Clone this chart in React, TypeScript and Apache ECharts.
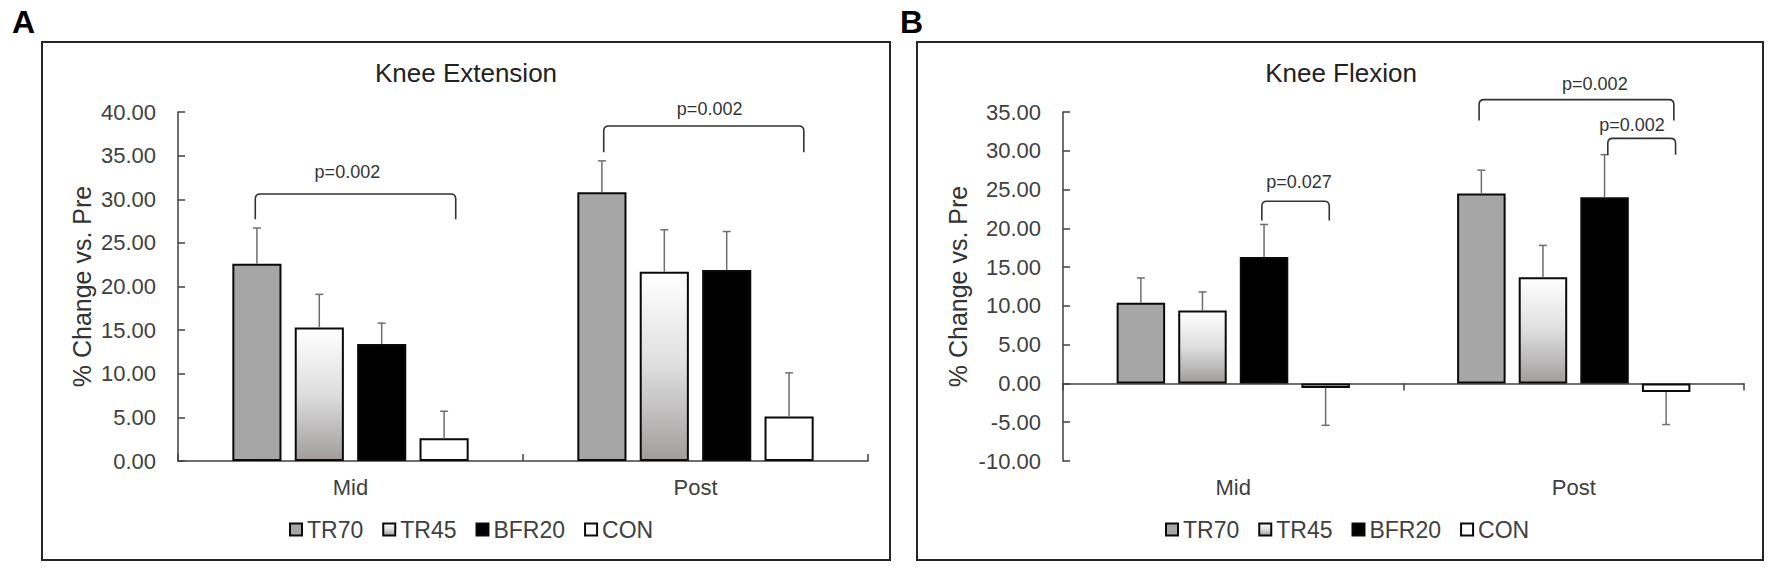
import React, { useEffect, useRef } from "react";
import * as echarts from "echarts";

const categories = ["Mid", "Post"];
const groups = ["TR70", "TR45", "BFR20", "CON"];

// Panel A – Knee Extension: mean % change vs. Pre and error (SE)
const extTR70 = [22.6, 30.8];
const extTR45 = [15.3, 21.7];
const extBFR20 = [13.4, 21.9];
const extCON = [2.6, 5.1];
const extTR70Err = [4.1, 3.6];
const extTR45Err = [3.8, 4.8];
const extBFR20Err = [2.4, 4.4];
const extCONErr = [3.1, 5.0];

// Panel B – Knee Flexion
const flexTR70 = [10.4, 24.5];
const flexTR45 = [9.4, 13.7];
const flexBFR20 = [16.3, 24.0];
const flexCON = [-0.6, -1.1];
const flexTR70Err = [3.2, 3.0];
const flexTR45Err = [2.4, 4.1];
const flexBFR20Err = [4.2, 5.5];
const flexCONErr = [4.8, 4.2];

// Y axis ranges
const extAxis = { min: 0, max: 40, interval: 5 };
const flexAxis = { min: -10, max: 35, interval: 5 };

// Significance brackets:
// [categoryIndex, leftPosInBand, rightPosInBand, yTop, yLeftLeg, yRightLeg, labelPosInBand, labelY]
const extBrackets = [
  [0, 0.224, 0.805, 30.6, 27.7, 27.7, 0.491, 33.1],
  [1, 0.234, 0.814, 38.4, 35.4, 35.4, 0.541, 40.35],
];
const extBracketLabels = ["p=0.002", "p=0.002"];
const flexBrackets = [
  [0, 0.584, 0.782, 23.5, 21.0, 21.0, 0.693, 25.95],
  [1, 0.222, 0.794, 36.6, 33.9, 33.9, 0.562, 38.56],
  [1, 0.6, 0.799, 31.6, 29.5, 29.5, 0.671, 33.37],
];
const flexBracketLabels = ["p=0.027", "p=0.002", "p=0.002"];

const FONT = "'Liberation Sans', Arial, Helvetica, sans-serif";
const BAR_CAT_GAP = 0.315;
const BAR_GAP = 0.27;

function barOffset(k: number, n: number) {
  const a = 1 - BAR_CAT_GAP;
  const bw = a / (n + (n - 1) * BAR_GAP);
  return -a / 2 + bw / 2 + k * bw * (1 + BAR_GAP);
}

const groupColors: any[] = [
  "#a6a6a6",
  {
    type: "linear",
    x: 0,
    y: 0,
    x2: 0,
    y2: 1,
    colorStops: [
      { offset: 0, color: "#ffffff" },
      { offset: 0.5, color: "#dedede" },
      { offset: 1, color: "#a19d9d" },
    ],
  },
  "#000000",
  "#ffffff",
];

function errorRender(offset: number) {
  return (params: any, api: any) => {
    const cat = api.value(0);
    const v = api.value(1);
    const e = api.value(2);
    const bw = api.size([1, 0])[0];
    const base = api.coord([cat, v]);
    const end = api.coord([cat, v >= 0 ? v + e : v - e]);
    const x = base[0] + offset * bw;
    const style = { stroke: "#6e6e6e", lineWidth: 1.5 };
    return {
      type: "group",
      children: [
        { type: "line", shape: { x1: x, y1: base[1], x2: x, y2: end[1] }, style },
        { type: "line", shape: { x1: x - 4, y1: end[1], x2: x + 4, y2: end[1] }, style },
      ],
    };
  };
}

function bracketRender(labels: string[]) {
  return (params: any, api: any) => {
    const cat = api.value(0);
    const fl = api.value(1);
    const fr = api.value(2);
    const yTop = api.value(3);
    const yL = api.value(4);
    const yR = api.value(5);
    const tf = api.value(6);
    const ty = api.value(7);
    const bw = api.size([1, 0])[0];
    const c = api.coord([cat, yTop]);
    const x1 = c[0] + (fl - 0.5) * bw;
    const x2 = c[0] + (fr - 0.5) * bw;
    const yt = c[1];
    const yl = api.coord([cat, yL])[1];
    const yr = api.coord([cat, yR])[1];
    const tx = c[0] + (tf - 0.5) * bw;
    const tyPx = api.coord([cat, ty])[1];
    const r = 5;
    const d =
      `M${x1} ${yl} L${x1} ${yt + r} Q${x1} ${yt} ${x1 + r} ${yt} ` +
      `L${x2 - r} ${yt} Q${x2} ${yt} ${x2} ${yt + r} L${x2} ${yr}`;
    return {
      type: "group",
      children: [
        {
          type: "path",
          shape: { pathData: d },
          style: { fill: "none", stroke: "#333333", lineWidth: 1.6 },
        },
        {
          type: "text",
          x: tx,
          y: tyPx,
          style: {
            text: labels[params.dataIndex],
            fontSize: 18,
            fontFamily: FONT,
            fill: "#333333",
            align: "center",
            verticalAlign: "middle",
          },
        },
      ],
    };
  };
}

function panelSeries(
  values: number[][],
  errs: number[][],
  xAxisIndex: number,
  yAxisIndex: number,
  brackets: number[][],
  labels: string[]
) {
  const out: any[] = [];
  groups.forEach((g, k) => {
    out.push({
      name: g,
      type: "bar",
      xAxisIndex,
      yAxisIndex,
      data: values[k],
      barGap: `${BAR_GAP * 100}%`,
      barCategoryGap: `${BAR_CAT_GAP * 100}%`,
      itemStyle: { color: groupColors[k], borderColor: "#0a0a0a", borderWidth: 2 },
      z: 2,
    });
  });
  groups.forEach((g, k) => {
    out.push({
      type: "custom",
      xAxisIndex,
      yAxisIndex,
      silent: true,
      z: 3,
      clip: false,
      data: categories.map((c, i) => [i, values[k][i], errs[k][i]]),
      encode: { x: 0, y: 1 },
      renderItem: errorRender(barOffset(k, groups.length)),
    });
  });
  out.push({
    type: "custom",
    xAxisIndex,
    yAxisIndex,
    silent: true,
    z: 4,
    clip: false,
    data: brackets,
    encode: { x: 0, y: 3 },
    renderItem: bracketRender(labels),
  });
  return out;
}

const axisLineStyle = { color: "#404040", width: 1.5 };

function yAxisFor(gridIndex: number, range: any, nameGap: number) {
  return {
    type: "value",
    gridIndex,
    min: range.min,
    max: range.max,
    interval: range.interval,
    name: "% Change vs. Pre",
    nameLocation: "middle",
    nameGap,
    nameTextStyle: { fontSize: 25, color: "#333333", fontFamily: FONT },
    axisLine: { show: true, lineStyle: axisLineStyle },
    axisTick: { show: true, inside: true, length: 7, lineStyle: axisLineStyle },
    splitLine: { show: false },
    axisLabel: {
      fontSize: 22,
      color: "#404040",
      fontFamily: FONT,
      margin: 22,
      formatter: (v: number) => v.toFixed(2),
    },
  };
}

export default function App() {
  const ref = useRef<HTMLDivElement>(null);
  useEffect(() => {
    if (!ref.current) return;
    const chart = echarts.init(ref.current, undefined, { renderer: "svg" });
    const option: any = {
      animation: false,
      backgroundColor: "#ffffff",
      textStyle: { fontFamily: FONT },
      grid: [
        { left: 178, top: 112, width: 690, height: 349 },
        { left: 1063, top: 112, width: 681, height: 349 },
      ],
      xAxis: [
        {
          type: "category",
          gridIndex: 0,
          data: categories,
          axisLine: { show: true, lineStyle: axisLineStyle },
          axisTick: { show: true, inside: true, length: 7, interval: 0, lineStyle: axisLineStyle },
          axisLabel: { fontSize: 22, color: "#404040", margin: 15, fontFamily: FONT },
        },
        {
          type: "category",
          gridIndex: 1,
          data: categories,
          position: "bottom",
          axisLine: { show: false, onZero: false },
          axisTick: { show: false },
          axisLabel: { fontSize: 22, color: "#404040", margin: 15, fontFamily: FONT },
        },
        {
          type: "category",
          gridIndex: 1,
          data: categories,
          axisLine: { show: true, onZero: true, lineStyle: axisLineStyle },
          axisTick: { show: true, inside: true, length: 7, interval: 0, lineStyle: axisLineStyle },
          axisLabel: { show: false },
        },
      ],
      yAxis: [yAxisFor(0, extAxis, 84), yAxisFor(1, flexAxis, 93)],
      legend: [
        {
          data: groups,
          left: 289,
          top: 518,
          padding: 0,
          itemWidth: 12,
          itemHeight: 12,
          itemGap: 19,
          icon: "rect",
          selectedMode: false,
          textStyle: { fontSize: 23, color: "#404040", fontFamily: FONT },
        },
        {
          data: groups,
          left: 1165,
          top: 518,
          padding: 0,
          itemWidth: 12,
          itemHeight: 12,
          itemGap: 19,
          icon: "rect",
          selectedMode: false,
          textStyle: { fontSize: 23, color: "#404040", fontFamily: FONT },
        },
      ],
      graphic: [
        {
          type: "rect",
          shape: { x: 42, y: 42, width: 848, height: 518 },
          style: { fill: "none", stroke: "#262626", lineWidth: 2 },
          silent: true,
        },
        {
          type: "rect",
          shape: { x: 917, y: 42, width: 846, height: 518 },
          style: { fill: "none", stroke: "#262626", lineWidth: 2 },
          silent: true,
        },
        {
          type: "text",
          x: 12,
          y: 22,
          style: { text: "A", fontSize: 32, fontWeight: "bold", fill: "#000000", fontFamily: FONT, verticalAlign: "middle" },
        },
        {
          type: "text",
          x: 900,
          y: 22,
          style: { text: "B", fontSize: 32, fontWeight: "bold", fill: "#000000", fontFamily: FONT, verticalAlign: "middle" },
        },
        {
          type: "text",
          x: 466,
          y: 73,
          style: { text: "Knee Extension", fontSize: 26, fill: "#222222", fontFamily: FONT, align: "center", verticalAlign: "middle" },
        },
        {
          type: "text",
          x: 1341,
          y: 73,
          style: { text: "Knee Flexion", fontSize: 26, fill: "#222222", fontFamily: FONT, align: "center", verticalAlign: "middle" },
        },
      ],
      series: [
        ...panelSeries(
          [extTR70, extTR45, extBFR20, extCON],
          [extTR70Err, extTR45Err, extBFR20Err, extCONErr],
          0,
          0,
          extBrackets,
          extBracketLabels
        ),
        ...panelSeries(
          [flexTR70, flexTR45, flexBFR20, flexCON],
          [flexTR70Err, flexTR45Err, flexBFR20Err, flexCONErr],
          2,
          1,
          flexBrackets,
          flexBracketLabels
        ),
      ],
    };
    chart.setOption(option);
    return () => chart.dispose();
  }, []);
  return (
    <div
      ref={ref}
      style={{ position: "fixed", left: 0, top: 0, width: 1775, height: 567, background: "#fff" }}
    />
  );
}
